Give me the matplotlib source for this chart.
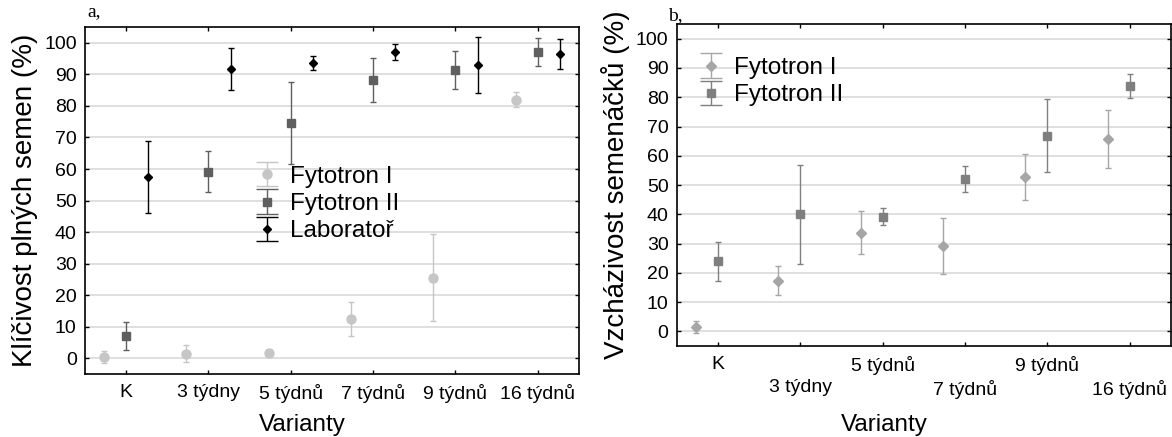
import numpy as np
import matplotlib
matplotlib.use("Agg")
import matplotlib.pyplot as plt
from matplotlib.lines import Line2D

plt.rcParams['font.family'] = ['Liberation Sans', 'DejaVu Sans']

# varianty (x categories)
varianty = ["K", "3 týdny", "5 týdnů", "7 týdnů", "9 týdnů", "16 týdnů"]

# a) klicivost plnych semen (%)
a_fyt1 = [0.5, 1.4, 1.7, 12.6, 25.5, 82.0]
a_fyt1_err = [1.9, 2.7, 0.9, 5.4, 13.8, 2.4]
a_fyt2 = [7.1, 59.2, 74.7, 88.3, 91.5, 97.2]
a_fyt2_err = [4.5, 6.6, 13.0, 6.9, 6.0, 4.4]
a_lab = [57.6, 91.6, 93.6, 97.1, 93.1, 96.4]
a_lab_err = [11.4, 6.7, 2.2, 2.6, 8.9, 4.7]

# b) vzchazivost semenacku (%)
b_fyt1 = [1.6, 17.4, 33.8, 29.3, 52.8, 65.7]
b_fyt1_err = [2.1, 4.9, 7.3, 9.6, 7.8, 10.0]
b_fyt2 = [23.9, 40.0, 39.2, 52.1, 66.9, 84.0]
b_fyt2_err = [6.7, 17.0, 3.0, 4.5, 12.5, 4.1]

x = np.arange(1, len(varianty) + 1)
off = 0.27

fig = plt.figure(figsize=(11.72, 4.37), dpi=100)
ax1 = fig.add_axes([0.0725, 0.144, 0.4215, 0.794])
ax2 = fig.add_axes([0.5776, 0.208, 0.4215, 0.737])


def style(ax, xlab_x, xlab_pad):
    ax.set_xlim(0.5, 6.5)
    ax.set_ylim(-5, 105)
    ax.set_yticks(range(0, 101, 10))
    ax.set_xticks(x)
    ax.yaxis.grid(True, color="#d9d9d9", lw=1.2)
    ax.set_axisbelow(True)
    ax.tick_params(direction="in", top=True, right=True, length=3,
                   labelsize=14, width=1)
    ax.tick_params(axis="y", pad=6)
    ax.tick_params(axis="x", pad=7)
    for s in ax.spines.values():
        s.set_linewidth(1.2)
    ax.set_xlabel("Varianty", fontsize=17.5, labelpad=xlab_pad, x=xlab_x)


def legend(ax, **kw):
    leg = ax.legend(frameon=False, fontsize=17.5, handlelength=1.2,
                    handletextpad=0.35, labelspacing=0.22, borderpad=0, **kw)
    # wider caps in the legend keys
    for ln in leg.findobj(Line2D):
        if ln.get_marker() == "_":
            ln.set_markersize(16)
    return leg


ebk = dict(ls="none", capsize=2.2, elinewidth=1, capthick=1)

ax1.errorbar(x - off, a_fyt1, yerr=a_fyt1_err, fmt="o", ms=6.5, color="#c6c6c6",
             label="Fytotron I", **ebk)
ax1.errorbar(x, a_fyt2, yerr=a_fyt2_err, fmt="s", ms=6, color="#5f5f5f",
             label="Fytotron II", **ebk)
ax1.errorbar(x + off, a_lab, yerr=a_lab_err, fmt="D", ms=4.5, color="black",
             label="Laboratoř", **ebk)
style(ax1, 0.44, 8)
ax1.set_xticklabels(varianty)
ax1.set_ylabel("Klíčivost plných semen (%)", fontsize=20, labelpad=4)
legend(ax1, loc="center left", bbox_to_anchor=(0.315, 0.49))
ax1.text(0.005, 1.02, "a,", transform=ax1.transAxes, family="Liberation Serif",
         fontsize=14, ha="left", va="bottom")

ax2.errorbar(x - off, b_fyt1, yerr=b_fyt1_err, fmt="D", ms=5, color="#a6a6a6",
             label="Fytotron I", **ebk)
ax2.errorbar(x, b_fyt2, yerr=b_fyt2_err, fmt="s", ms=6, color="#7f7f7f",
             label="Fytotron II", **ebk)
style(ax2, 0.42, 11)
ax2.set_xticklabels([v if i % 2 == 0 else "\n" + v for i, v in enumerate(varianty)])
for lab in ax2.get_xticklabels():
    lab.set_linespacing(1.45)
ax2.set_ylabel("Vzcházivost semenáčků (%)", fontsize=20, labelpad=4)
legend(ax2, loc="upper left", bbox_to_anchor=(0.015, 0.935))
ax2.text(-0.018, 1.0, "b,", transform=ax2.transAxes, family="Liberation Serif",
         fontsize=14, ha="left", va="bottom")

fig.savefig("out.png", dpi=100)
